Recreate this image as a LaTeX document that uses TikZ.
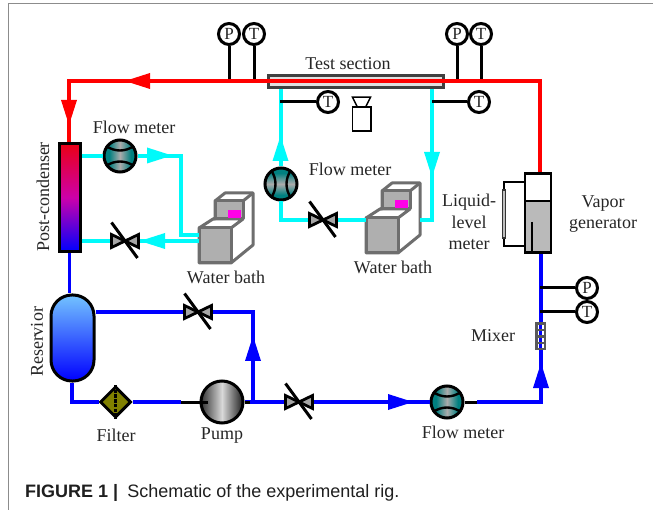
\documentclass[tikz,border=0pt]{standalone}
\usepackage{fontspec}
\setmainfont{Liberation Serif}
\newfontfamily\capfont{Liberation Sans}
\usetikzlibrary{shapes.geometric,calc}
\definecolor{pipered}{RGB}{255,0,0}
\definecolor{pipeblue}{RGB}{0,0,255}
\definecolor{pipecyan}{RGB}{0,250,250}
\definecolor{tealm}{RGB}{0,128,128}
\definecolor{olivef}{RGB}{128,128,0}
\definecolor{bathgray}{RGB}{175,175,175}
\definecolor{bathline}{RGB}{110,110,110}
\definecolor{magbox}{RGB}{255,0,230}
\definecolor{resTop}{RGB}{115,195,255}
\definecolor{condMid}{RGB}{205,0,170}
\pgfdeclarehorizontalshading{metershade}{100bp}{color(0bp)=(tealm); color(33bp)=(tealm); color(50bp)=(black!33); color(67bp)=(tealm); color(100bp)=(tealm)}
\tikzset{
  redp/.style={draw=pipered,line width=3.8pt},
  bluep/.style={draw=pipeblue,line width=3.8pt},
  cyanp/.style={draw=pipecyan,line width=3.8pt},
  blk/.style={draw=black,line width=3pt},
  lab/.style={font=\fontsize{18}{20}\selectfont,text=black!85,inner sep=0pt},
  gauge/.style={circle,draw=black,line width=3pt,fill=white,minimum size=21pt,inner sep=0pt,font=\fontsize{17}{18}\selectfont,text=black!85},
  meter/.style={circle,draw=black,line width=3pt,minimum size=32pt,inner sep=0pt,
    shading=metershade,shading angle=#1},
  pumpn/.style={circle,draw=black,line width=3pt,minimum size=42pt,inner sep=0pt,
    left color=black!80,right color=black!88,middle color=black!15},
  valvebox/.style={rectangle,minimum width=28pt,minimum height=14pt,inner sep=0pt},
  valvepart/.style={draw=black,line width=2.8pt,fill=black!35,line join=miter},
  bathp/.style={draw=bathline,line width=3pt,line join=round},
}
\newcommand{\arrowmark}[4]{\fill[#4,shift={(#1,#2)},rotate=#3] (0,0) -- (-25,-8) -- (-25,8) -- cycle;}
\newcommand{\valvemark}[1]{%
  \draw[valvepart] ($(#1)+(-13.5,-6.5)$) -- ($(#1)+(0,0)$) -- ($(#1)+(-13.5,6.5)$) -- cycle;
  \draw[valvepart] ($(#1)+(13.5,-6.5)$) -- ($(#1)+(0,0)$) -- ($(#1)+(13.5,6.5)$) -- cycle;
  \draw[black,line width=3pt] ($(#1)+(-13.5,-18.5)$) -- ($(#1)+(12.5,17)$);}
\newcommand{\arcsH}[1]{%
  \draw[black,line width=2.4pt] ($(#1)+(-14,-10)$) .. controls ($(#1)+(-5,-4)$) and ($(#1)+(5,-4)$) .. ($(#1)+(14,-10)$);
  \draw[black,line width=2.4pt] ($(#1)+(-14,10)$) .. controls ($(#1)+(-5,4)$) and ($(#1)+(5,4)$) .. ($(#1)+(14,10)$);}
\newcommand{\arcsV}[1]{%
  \draw[black,line width=2.4pt] ($(#1)+(-10,-14)$) .. controls ($(#1)+(-4,-5)$) and ($(#1)+(-4,5)$) .. ($(#1)+(-10,14)$);
  \draw[black,line width=2.4pt] ($(#1)+(10,-14)$) .. controls ($(#1)+(4,-5)$) and ($(#1)+(4,5)$) .. ($(#1)+(10,14)$);}
\newcommand{\bath}[2]{%
  \begin{scope}[shift={(#1,#2)}]
    \draw[bathp,fill=white] (199,228) -- (213,219) -- (215,219) -- (215,201) -- (225,193) -- (253,193) -- (253,245) -- (231,263) -- (199,263) -- cycle;
    \draw[bathp,fill=bathgray] (215,201) rectangle (243,219);
    \draw[bathp] (243,201) -- (253,193);
    \draw[bathp] (213,219) -- (243,219) -- (231,228);
    \fill[magbox] (227.5,210) rectangle (241,218);
    \draw[bathp,fill=bathgray] (199,228) rectangle (231,263);
  \end{scope}}
\begin{document}
\begin{tikzpicture}[x=1pt,y=-1pt]
\useasboundingbox (0,0) rectangle (653,510);
\fill[white] (0,0) rectangle (653,510);
\draw[black!45,line width=1pt] (8.5,510) -- (8.5,4) -- (653,4);

% nodes
\node[rectangle,draw=black!75,line width=3pt,fill=black!12,minimum width=175pt,minimum height=12pt,inner sep=0pt] (test) at (356,81.5) {};
\node[lab] (testlab) at (348,64) {Test section};

\node[gauge] (p1) at (229,34) {P};
\node[gauge] (t1) at (254,34) {T};
\node[gauge] (p2) at (457,34) {P};
\node[gauge] (t2) at (481,34) {T};
\node[gauge] (t3) at (328,102) {T};
\node[gauge] (t4) at (479,102) {T};
\node[gauge] (p3) at (587,288) {P};
\node[gauge] (t5) at (587,312) {T};

\node[rectangle,draw=black,line width=3pt,minimum width=21pt,minimum height=108pt,inner sep=0pt,
  top color=red!92!blue,bottom color=blue,middle color=condMid] (cond) at (69.5,197.5) {};
\node[rectangle,rounded corners=21pt,draw=black,line width=3pt,minimum width=43pt,minimum height=86pt,inner sep=0pt,
  top color=resTop,bottom color=blue] (res) at (72.5,338) {};

\node[meter=0] (fm1) at (120,156) {};
\node[meter=90] (fm2) at (281,184) {};
\node[meter=0] (fm3) at (447,402) {};

\node[valvebox] (v1) at (125,241) {};
\node[valvebox] (v2) at (323,220) {};
\node[valvebox] (v3) at (198,312) {};
\node[valvebox] (v4) at (299,402) {};

\node[diamond,aspect=1,draw=black,line width=3pt,fill=olivef,minimum size=31pt,inner sep=0pt] (filter) at (115.5,402) {};
\node[pumpn] (pump) at (222,402) {};

% vapour generator
\fill[black!27] (525,201) rectangle (551,252);
\node[rectangle,draw=black,line width=2.3pt,minimum width=26pt,minimum height=79pt,inner sep=0pt] (gen) at (538,213) {};
\draw[black,line width=2.3pt] (525,201) -- (551,201);
\draw[black,line width=2.3pt] (532,222) -- (532,252);
\coordinate (lmt) at (504,182);
\coordinate (lmb) at (504,246);
\draw[black,line width=2.3pt] (gen.west |- lmt) -- (lmt) -- (lmb) -- (gen.west |- lmb);
\node[rectangle,draw=black!80,line width=1.3pt,fill=black!25,minimum width=3.5pt,minimum height=48pt,inner sep=0pt] (lmeter) at (504,214) {};

% camera
\node[rectangle,draw=black,line width=1.5pt,fill=white,minimum width=18.5pt,minimum height=24pt,inner sep=0pt] (cam) at (361.5,119) {};
\draw[black,line width=1.5pt] (cam.north) ++(-4.5,0) -- ++(-4.5,-9) -- ++(18,0) -- ++(-4.5,9);

% water baths
\bath{0}{0}
\bath{167}{-10}
\coordinate (wb1a) at (199,235);
\coordinate (wb1b) at (199,241);
\coordinate (wb2a) at (366,220);
\coordinate (wb2b) at (420,220);

% corner points
\coordinate (cr1) at (69,81);
\coordinate (cr2) at (540,81);
\coordinate (cc1) at (181,156);
\coordinate (cc2) at (181,235);
\coordinate (cc3) at (281,220);
\coordinate (cc4) at (432,220);
\coordinate (cb1) at (72,402);
\coordinate (cb2) at (253,312);
\coordinate (cb3) at (253,402);
\coordinate (cb4) at (541,402);
\coordinate (pumpin) at (181,402);
\coordinate (pumpmid) at (208,402);
\coordinate (fmout) at (477,402);
\coordinate (tap1) at (280,102);
\coordinate (tap2) at (432,102);
\coordinate (tap3) at (540,288);
\coordinate (tap4) at (540,312);

% gauge lines
\draw[blk] (p1) -- (p1 |- cr1);
\draw[blk] (t1) -- (t1 |- cr1);
\draw[blk] (p2) -- (p2 |- cr2);
\draw[blk] (t2) -- (t2 |- cr2);

% red loop
\draw[redp] (gen.north -| cr2) -- (cr2) -- (cr1) -- (cond.north -| cr1);
\arrowmark{125}{81}{180}{pipered}
\arrowmark{69}{125}{-90}{pipered}

% cyan
\draw[cyanp] (cond.east |- fm1) -- (fm1);
\draw[cyanp] (fm1) -- (cc1) -- (cc2) -- (wb1a);
\draw[cyanp] (cond.east |- v1) -- (v1.west);
\draw[cyanp] (v1.east) -- (wb1b);
\arrowmark{172}{155.5}{0}{pipecyan}
\arrowmark{140}{241}{180}{pipecyan}
\draw[cyanp] (test.south -| fm2) -- (fm2);
\draw[cyanp] (fm2) -- (cc3) -- (v2.west);
\draw[cyanp] (v2.east) -- (wb2a);
\draw[cyanp] (test.south -| cc4) -- (cc4) -- (wb2b);
\arrowmark{280.5}{136}{90}{pipecyan}
\arrowmark{432}{177}{-90}{pipecyan}
\draw[blk] (tap1) -- (t3);
\draw[blk] (tap2) -- (t4);

% blue
\draw[bluep] (cond.south) -- (res.north -| cond.south);
\draw[bluep] (res.east |- v3) -- (v3.west);
\draw[bluep] (v3.east) -- (cb2) -- (cb3);
\draw[bluep] (res.south -| cb1) -- (cb1) -- (filter.west);
\draw[bluep] (filter.east) -- (pumpin);
\draw[bluep] (pump.east) -- (v4.west);
\draw[bluep] (v4.east) -- (fm3);
\draw[bluep] (fmout) -- (cb4) -- (cb4 |- gen.south);
\arrowmark{253}{336}{90}{pipeblue}
\arrowmark{413}{402}{0}{pipeblue}
\arrowmark{541}{363}{90}{pipeblue}
\draw[blk] (pump.east) -- ++(5,0);
\draw[blk] (fm3) -- (fmout);
\draw[blk] (tap3) -- (p3);
\draw[blk] (tap4) -- (t5);

% details on bodies
\arcsH{fm1}
\arcsV{fm2}
\arcsH{fm3}
\valvemark{v1}
\valvemark{v2}
\valvemark{v3}
\valvemark{v4}
\draw[black,line width=3pt,dash pattern=on 3.5pt off 1.2pt] (filter.north) -- (filter.south);
\draw[blk] (pumpin) -- (pumpmid);

% mixer
\node[rectangle,fill=black!65,minimum width=11pt,minimum height=28pt,inner sep=0pt] (mixer) at (540.5,336) {};
\foreach \yy in {327,333,340,346}{
  \fill[white] (537.5,\yy-2) rectangle (543.5,\yy+2);
  \fill[pipeblue] (539,\yy-2) rectangle (542,\yy+2);
}

% labels
\node[lab] (l1) at (134,127) {Flow meter};
\node[lab] (l2) at (350,169) {Flow meter};
\node[lab] (l3) at (463,432) {Flow meter};
\node[lab] (l4) at (226,277) {Water bath};
\node[lab] (l5) at (393,267) {Water bath};
\node[lab,align=center] (l6) at (469,222) {Liquid-\\[1.6pt]level\\[1.6pt]meter};
\node[lab,align=center] (l7) at (603,214) {Vapor\\[1.6pt]generator};
\node[lab] (l8) at (493,336) {Mixer};
\node[lab] (l9) at (116,435) {Filter};
\node[lab] (l10) at (222,436) {Pump};
\node[lab,rotate=90] (l11) at (43,197) {Post-condenser};
\node[lab,rotate=90] (l12) at (37,342) {Reservior};
\node[anchor=base west,inner sep=0pt,text=black!88,font=\capfont\fontsize{18}{20}\selectfont] (cap) at (25,497) {\textbf{FIGURE 1 |}\hspace{4pt} Schematic of the experimental rig.};
\end{tikzpicture}
\end{document}
